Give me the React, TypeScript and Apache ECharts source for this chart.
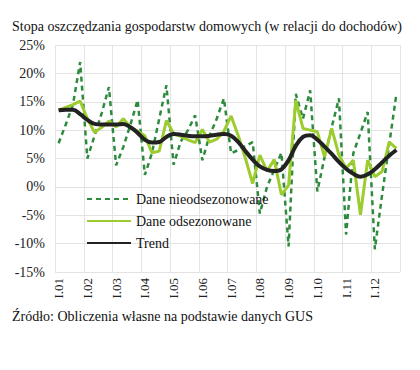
import React, { useEffect, useRef } from "react";
import * as echarts from "echarts";

const years = ["01", "02", "03", "04", "05", "06", "07", "08", "09", "10", "11", "12"];
const quarters = ["I", "II", "III", "IV"];
const categories: string[] = [];
years.forEach((y) => quarters.forEach((q) => categories.push(q + "." + y)));

const nsa = [
  7.7, 11.0, 14.5, 22.0,
  5.0, 9.0, 13.0, 17.6,
  3.8, 7.0, 11.0, 15.3,
  2.1, 6.0, 12.0, 17.9,
  3.9, 8.0, 10.0, 12.6,
  4.7, 9.0, 12.0, 15.6,
  5.9, 6.5, 7.2, 7.9,
  -4.7, 0.0, 3.0, 6.0,
  -10.5, 16.4, 12.0, 17.0,
  -0.8, 5.2, 10.5, 15.6,
  -8.4, 5.9, 9.5, 13.2,
  -11.0, -1.5, 7.5, 16.4,
];

const sa = [
  13.5, 14.0, 14.5, 15.1,
  12.0, 9.6, 10.5, 11.6,
  10.6, 12.0, 10.5, 9.8,
  9.0, 6.0, 6.3, 11.7,
  9.4, 8.9, 8.3, 7.8,
  10.1, 7.9, 8.4, 9.8,
  12.5, 9.0, 5.0, 0.6,
  5.6, 2.8, 4.8, -1.4,
  0.3, 15.3, 10.3, 10.0,
  9.7, 5.3, 10.3, 5.6,
  3.3, 4.7, -4.9, 4.7,
  1.8, 2.7, 7.9, 6.8,
];

const trend = [
  13.5, 13.6, 13.6, 12.8,
  11.8, 11.1, 11.0, 11.0,
  11.0, 11.1, 10.5, 9.5,
  8.3, 7.8, 7.9, 8.8,
  9.3, 9.2, 9.0, 8.9,
  8.9, 9.0, 9.2, 9.3,
  9.0, 7.9, 6.3, 4.8,
  3.6, 3.0, 2.8, 3.1,
  4.7, 7.2, 8.8, 9.1,
  8.3, 7.1, 5.8, 4.4,
  3.2, 2.3, 1.8, 2.2,
  3.1, 4.3, 5.5, 6.5,
];

const seriesNames = ["Dane nieodsezonowane", "Dane odsezonowane", "Trend"];
const titleText = "Stopa oszczędzania gospodarstw domowych (w relacji do dochodów)";
const sourceText = "Źródło: Obliczenia własne na podstawie danych GUS";

const FONT = "Liberation Serif";

export default function App() {
  const ref = useRef<HTMLDivElement>(null);
  useEffect(() => {
    if (!ref.current) return;
    const chart = echarts.init(ref.current, undefined, { renderer: "svg" });
    chart.setOption({
      animation: false,
      backgroundColor: "#ffffff",
      textStyle: { fontFamily: FONT },
      title: {
        text: titleText,
        left: 12,
        top: 19,
        padding: 0,
        textStyle: { fontFamily: FONT, fontSize: 14, fontWeight: "normal", color: "#111" },
      },
      graphic: [
        {
          type: "text",
          left: 12,
          top: 309,
          style: { text: sourceText, fontFamily: FONT, fontSize: 14, fill: "#111" },
        },
      ],
      legend: {
        orient: "vertical",
        left: 86,
        top: 192,
        padding: 0,
        itemWidth: 44,
        itemHeight: 14,
        itemGap: 8,
        itemStyle: { opacity: 0 },
        textStyle: { fontFamily: FONT, fontSize: 14, color: "#111" },
        data: seriesNames,
      },
      grid: { left: 55, right: 20, top: 45, bottom: 98, containLabel: false },
      xAxis: {
        type: "category",
        data: categories,
        boundaryGap: true,
        axisLine: { show: true, lineStyle: { color: "#e0e0e0" } },
        axisTick: { show: false, interval: 3 },
        splitLine: { show: true, interval: 3, lineStyle: { color: "#e3e3e3", width: 1 } },
        axisLabel: {
          interval: 3,
          rotate: 90,
          margin: 6,
          fontFamily: FONT,
          fontSize: 13,
          color: "#222",
        },
      },
      yAxis: {
        type: "value",
        min: -15,
        max: 25,
        interval: 5,
        axisLine: { show: false },
        axisTick: { show: false },
        splitLine: { show: true, lineStyle: { color: "#e3e3e3", width: 1 } },
        axisLabel: {
          formatter: "{value}%",
          margin: 10,
          fontFamily: FONT,
          fontSize: 14,
          color: "#222",
        },
      },
      series: [
        {
          name: seriesNames[0],
          type: "line",
          data: nsa,
          symbol: "none",
          lineStyle: { color: "#2e8b3e", width: 2.5, type: [5, 4] },
          itemStyle: { color: "#2e8b3e" },
          z: 2,
        },
        {
          name: seriesNames[1],
          type: "line",
          data: sa,
          symbol: "none",
          lineStyle: { color: "#9ccc2e", width: 3 },
          itemStyle: { color: "#9ccc2e" },
          z: 3,
        },
        {
          name: seriesNames[2],
          type: "line",
          data: trend,
          symbol: "none",
          smooth: 0.4,
          lineStyle: { color: "#222222", width: 4 },
          itemStyle: { color: "#222222" },
          z: 4,
        },
      ],
    });
    return () => chart.dispose();
  }, []);
  return (
    <div
      ref={ref}
      style={{ position: "absolute", left: 0, top: 0, width: 420, height: 370, background: "#fff" }}
    />
  );
}
